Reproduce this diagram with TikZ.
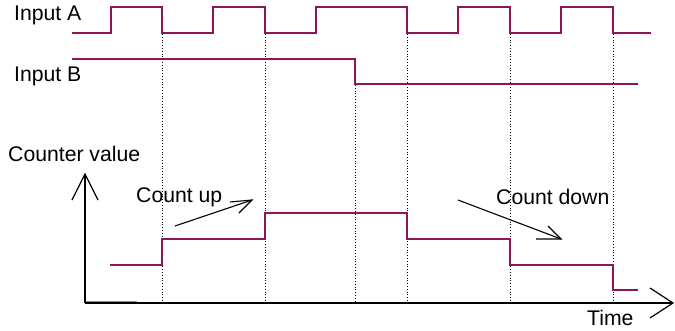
\documentclass[tikz,border=0pt]{standalone}
\usepackage{fontspec}
\setmainfont{Liberation Sans}
\begin{document}
\begin{tikzpicture}[x=1pt,y=-1pt,
  signal/.style={draw=sigcol,line width=1.8pt},
  guide/.style={draw=black,line width=0.8pt,dotted},
  axisline/.style={draw=black,line width=1.2pt},
  pointer/.style={draw=black,line width=1.1pt},
  lbl/.style={anchor=west,inner sep=0pt,font=\fontsize{21.2}{25}\selectfont}]
\definecolor{sigcol}{RGB}{140,22,86}
\useasboundingbox (0,0) rectangle (675,330);

% labels
\node[lbl] (ina) at (14,15) {Input A};
\node[lbl] (inb) at (14,76) {Input B};
\node[lbl] (cnt) at (8,154) {Counter value};
\node[lbl] (up) at (136,197) {Count up};
\node[lbl] (down) at (496,197) {Count down};
\node[lbl] (time) at (587,318) {Time};

% dotted edge markers
\foreach \x in {162,265,407,510,613} \draw[guide] (\x,34) -- (\x,303);
\draw[guide] (355,85) -- (355,303);

% input A
\draw[signal] (72,33) -- (111,33) -- (111,7) -- (162,7) -- (162,33) -- (213,33)
  -- (213,7) -- (265,7) -- (265,33) -- (316,33) -- (316,7) -- (407,7)
  -- (407,33) -- (458,33) -- (458,7) -- (510,7) -- (510,33) -- (561,33)
  -- (561,7) -- (613,7) -- (613,33) -- (651,33);

% input B
\draw[signal] (72,59) -- (355,59) -- (355,84) -- (638,84);

% counter value
\draw[signal] (110,265) -- (162,265) -- (162,239) -- (265,239) -- (265,213)
  -- (407,213) -- (407,239) -- (510,239) -- (510,265) -- (613,265)
  -- (613,290) -- (638,290);
\draw[draw=sigcol!60,line width=1.2pt] (86,302) -- (137,302);

% axes
\coordinate (o) at (85,303);
\coordinate (ytip) at (85,174);
\coordinate (xtip) at (673,303);
\draw[axisline] (o) -- (ytip);
\draw[axisline] (72,200) -- (ytip) -- (98,200);
\draw[axisline] (o) -- (xtip);
\draw[axisline] (650,288) -- (xtip) -- (650,318);

% direction pointers
\coordinate (upa) at (175,226);
\coordinate (upb) at (252,200);
\draw[pointer] (upa) -- (upb);
\draw[pointer] (230,202) -- (upb) -- (239,213);
\coordinate (dna) at (458,200);
\coordinate (dnb) at (561,239);
\draw[pointer] (dna) -- (dnb);
\draw[pointer] (548,226) -- (dnb) -- (536,239);
\end{tikzpicture}
\end{document}
